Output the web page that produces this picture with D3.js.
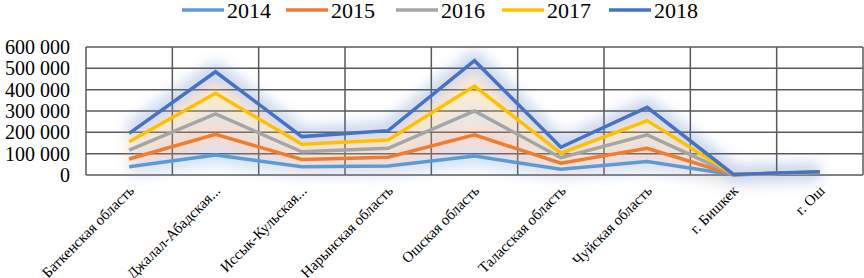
<!DOCTYPE html>
<html lang="ru">
  <head>
    <meta charset="utf-8">
    <title>Chart</title>
    <script type="text/javascript" src="https://cdn.jsdelivr.net/npm/d3@7"></script>
    <style>
      body { margin: 0; background: #fff; }
    </style>
  </head>
  <body>
    <script type="text/javascript">

    var w = 864;
    var h = 278;
    var font = "Liberation Serif, Times New Roman, serif";

    var categories = ["Баткенская область", "Джалал-Абадская...", "Иссык-Кульская...",
                      "Нарынская область", "Ошская область", "Таласская область",
                      "Чуйская область", "г. Бишкек", "г. Ош"];
    var years = ["2014", "2015", "2016", "2017", "2018"];
    var colors = ["#5B9BD5", "#ED7D31", "#A5A5A5", "#FFC000", "#4472C4"];

    var v2014 = [39000, 94000, 39000, 42000, 89000, 27000, 63000, 1000, 12000];
    var v2015 = [75000, 191000, 73000, 83000, 188000, 55000, 125000, 1500, 13000];
    var v2016 = [117000, 286000, 109000, 125000, 300000, 81000, 188000, 2000, 13000];
    var v2017 = [156000, 383000, 144000, 164000, 417000, 102000, 255000, 2000, 14000];
    var v2018 = [195000, 484000, 180000, 208000, 536000, 130000, 317000, 2500, 15000];
    var series = [v2014, v2015, v2016, v2017, v2018];

    var yTicks = [0, 100000, 200000, 300000, 400000, 500000, 600000];

    var plotL = 86, plotR = 863, plotT = 47, plotB = 175;

    var x = d3.scaleBand().domain(categories).range([plotL, plotR]);
    var y = d3.scaleLinear().domain([0, 600000]).range([plotB, plotT]);
    var fmt = function(d) { return d3.format(",")(d).replace(/,/g, " "); };

    var svg = d3.select("body").append("svg")
                .attr("width", w)
                .attr("height", h)
                .style("font-family", font);

    var defs = svg.append("defs");
    defs.append("filter").attr("id", "glow")
        .attr("x", "-20%").attr("y", "-50%").attr("width", "140%").attr("height", "200%")
        .append("feGaussianBlur").attr("stdDeviation", 7);

    // horizontal gridlines
    svg.append("g").selectAll("line")
       .data(yTicks)
       .enter()
       .append("line")
       .attr("x1", plotL).attr("x2", plotR)
       .attr("y1", function(d) { return y(d); })
       .attr("y2", function(d) { return y(d); })
       .attr("stroke", "#595959")
       .attr("stroke-width", 1.5);

    // vertical gridlines
    var vx = categories.map(function(c) { return x(c); }).concat([plotR]);
    svg.append("g").selectAll("line")
       .data(vx)
       .enter()
       .append("line")
       .attr("x1", function(d) { return d; })
       .attr("x2", function(d) { return d; })
       .attr("y1", plotT).attr("y2", plotB)
       .attr("stroke", "#595959")
       .attr("stroke-width", 1.5);

    var line = d3.line()
                 .x(function(d, i) { return x(categories[i]) + x.bandwidth() / 2; })
                 .y(function(d) { return y(d); });

    // soft glow under the lines
    svg.append("g").attr("filter", "url(#glow)").attr("opacity", 0.3)
       .selectAll("path")
       .data(series)
       .enter()
       .append("path")
       .attr("d", line)
       .attr("fill", "none")
       .attr("stroke", function(d, i) { return colors[i]; })
       .attr("stroke-width", 18)
       .attr("stroke-linejoin", "round");

    svg.append("g").selectAll("path")
       .data(series)
       .enter()
       .append("path")
       .attr("d", line)
       .attr("fill", "none")
       .attr("stroke", function(d, i) { return colors[i]; })
       .attr("stroke-width", 3.5)
       .attr("stroke-linejoin", "miter");

    // y labels
    svg.append("g").selectAll("text")
       .data(yTicks)
       .enter()
       .append("text")
       .attr("x", 70)
       .attr("y", function(d) { return y(d); })
       .attr("dy", "0.35em")
       .attr("text-anchor", "end")
       .attr("font-size", "20px")
       .text(fmt);

    // x labels
    svg.append("g").selectAll("text")
       .data(categories)
       .enter()
       .append("text")
       .attr("transform", function(d) {
         return "translate(" + (x(d) + x.bandwidth() / 2 + 2) + "," + (plotB + 13) + ") rotate(-45)";
       })
       .attr("text-anchor", "end")
       .attr("dy", "0.35em")
       .attr("font-size", "15px")
       .text(function(d) { return d; });

    // legend
    var legendX = [182, 286, 396, 502, 609];
    var lg = svg.append("g").selectAll("g")
                .data(years)
                .enter()
                .append("g")
                .attr("transform", function(d, i) { return "translate(" + legendX[i] + ",10)"; });
    lg.append("line")
      .attr("x1", 0).attr("x2", 42)
      .attr("stroke", function(d, i) { return colors[i]; })
      .attr("stroke-width", 3.5);
    lg.append("text")
      .attr("x", 45)
      .attr("dy", "0.35em")
      .attr("font-size", "22px")
      .text(function(d) { return d; });

    </script>
  </body>
</html>
